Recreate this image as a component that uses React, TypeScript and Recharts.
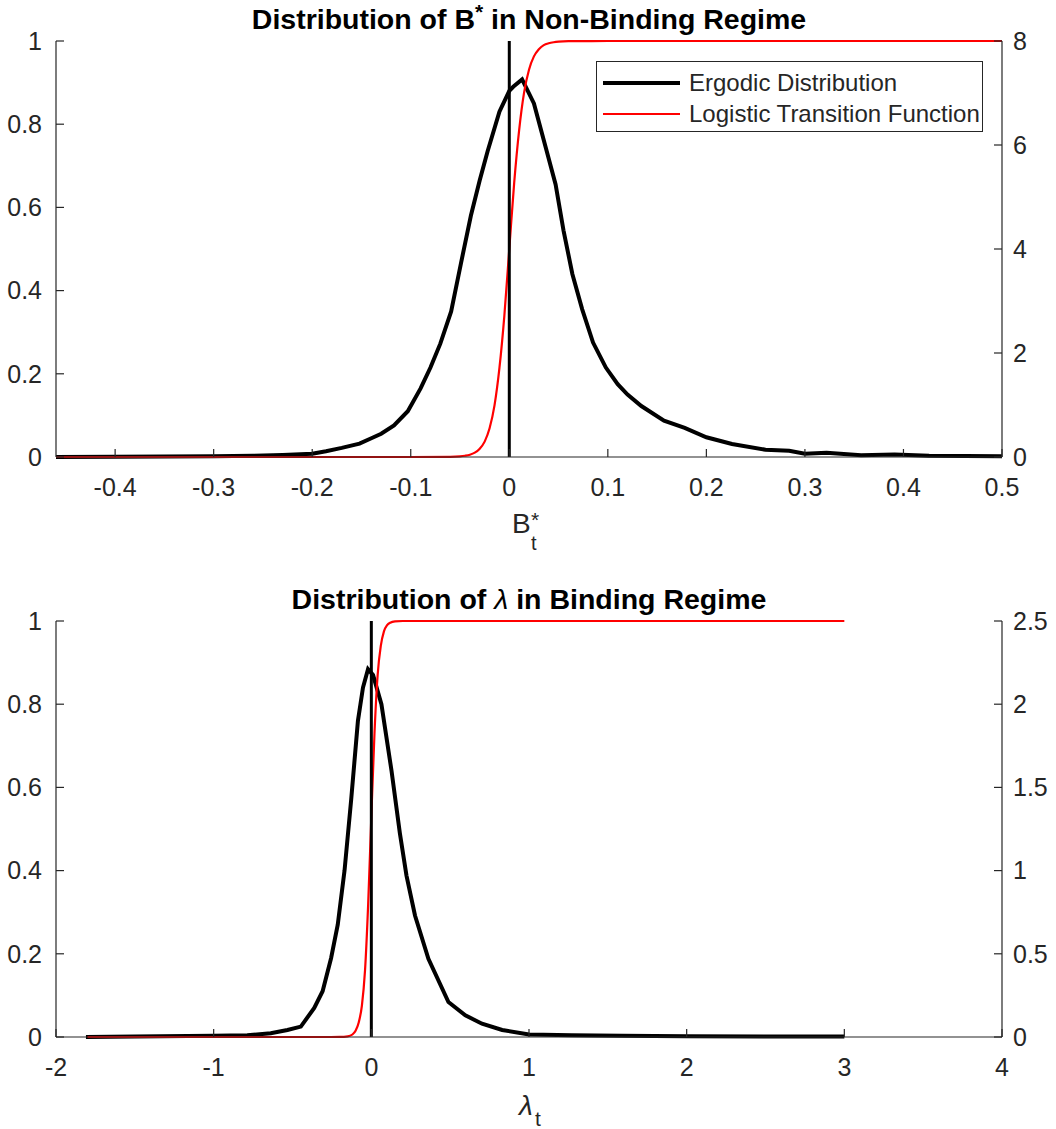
import { Legend, Line, LineChart, ReferenceLine, XAxis, YAxis } from "recharts";

const FONT = "'Liberation Sans', Arial, Helvetica, sans-serif";
const AXIS = "#262626";

// top panel: B* (non-binding regime)
const topDensityX = [-0.46, -0.4, -0.35, -0.3, -0.26, -0.23, -0.2, -0.186, -0.17, -0.152, -0.14, -0.13, -0.117, -0.103, -0.09, -0.08, -0.07, -0.059, -0.049, -0.039, -0.03, -0.022, -0.01, 0, 0.004, 0.013, 0.025, 0.038, 0.047, 0.055, 0.064, 0.074, 0.085, 0.098, 0.11, 0.12, 0.134, 0.157, 0.178, 0.2, 0.226, 0.26, 0.284, 0.3, 0.322, 0.357, 0.391, 0.426, 0.5];
const topDensity = [0, 0.004, 0.008, 0.016, 0.024, 0.04, 0.064, 0.112, 0.176, 0.256, 0.36, 0.448, 0.608, 0.88, 1.32, 1.72, 2.18, 2.8, 3.73, 4.64, 5.32, 5.88, 6.64, 7.04, 7.12, 7.26, 6.8, 5.88, 5.24, 4.36, 3.52, 2.84, 2.2, 1.72, 1.4, 1.2, 0.98, 0.7, 0.56, 0.38, 0.25, 0.14, 0.12, 0.064, 0.08, 0.032, 0.048, 0.024, 0.016];
const topLogitX = [-0.46, -0.1, -0.06, -0.05, -0.045, -0.04, -0.035, -0.03, -0.025, -0.02, -0.015, -0.01, -0.005, 0, 0.005, 0.01, 0.015, 0.02, 0.025, 0.03, 0.035, 0.04, 0.045, 0.05, 0.06, 0.1, 0.5];
const topLogit = [0, 0, 0.0004, 0.0015, 0.003, 0.0055, 0.0105, 0.02, 0.037, 0.069, 0.124, 0.214, 0.34, 0.5, 0.66, 0.786, 0.876, 0.931, 0.963, 0.98, 0.99, 0.9945, 0.997, 0.9985, 0.9996, 1, 1];
const topXTicks = [-0.4, -0.3, -0.2, -0.1, 0, 0.1, 0.2, 0.3, 0.4, 0.5];
const topRightTicks = [0, 2, 4, 6, 8];

// bottom panel: lambda (binding regime)
const botDensityX = [-1.81, -1.5, -1.0, -0.787, -0.638, -0.532, -0.447, -0.362, -0.309, -0.255, -0.213, -0.17, -0.128, -0.085, -0.053, -0.021, 0.011, 0.064, 0.128, 0.181, 0.223, 0.277, 0.362, 0.489, 0.596, 0.702, 0.83, 1.0, 1.27, 1.59, 2.0, 2.5, 3.0];
const botDensity = [0, 0.0025, 0.0075, 0.01, 0.0225, 0.0425, 0.0625, 0.175, 0.275, 0.475, 0.675, 1.0, 1.425, 1.9, 2.1, 2.21, 2.175, 2.0, 1.6, 1.225, 0.97, 0.73, 0.47, 0.21, 0.13, 0.08, 0.0425, 0.015, 0.01, 0.0075, 0.005, 0.0025, 0.0025];
const botLogitX = [-1.8, -0.3, -0.2, -0.15, -0.12, -0.1, -0.08, -0.06, -0.04, -0.02, 0, 0.02, 0.04, 0.06, 0.08, 0.1, 0.12, 0.15, 0.2, 3.0];
const botLogit = [0, 0, 0.0002, 0.0015, 0.006, 0.015, 0.035, 0.075, 0.16, 0.32, 0.53, 0.73, 0.87, 0.94, 0.975, 0.99, 0.996, 0.999, 1, 1];
const botXTicks = [-2, -1, 0, 1, 2, 3, 4];
const botRightTicks = [0, 0.5, 1, 1.5, 2, 2.5];

const leftTicks = [0, 0.2, 0.4, 0.6, 0.8, 1];

const zip = (xs: number[], ys: number[]) => xs.map((x, i) => ({ x, y: ys[i] }));

const tickStyle = { fontSize: 25, fill: AXIS, fontFamily: FONT };

function LegendBox() {
  return (
    <svg width={387} height={71} style={{ display: "block" }}>
      <rect x={0.5} y={0.5} width={386} height={70} fill="#fff" stroke={AXIS} strokeWidth={1} />
      <line x1={7} x2={84} y1={22} y2={22} stroke="#000" strokeWidth={4} />
      <line x1={7} x2={84} y1={53} y2={53} stroke="#ff0000" strokeWidth={2} />
      <text x={93} y={30} fontSize={24} fill={AXIS} fontFamily={FONT}>Ergodic Distribution</text>
      <text x={93} y={61} fontSize={24} fill={AXIS} fontFamily={FONT}>Logistic Transition Function</text>
    </svg>
  );
}

type PanelProps = {
  height: number;
  margin: { top: number; right: number; bottom: number; left: number };
  xDomain: [number, number];
  xTicks: number[];
  rightMax: number;
  rightTicks: number[];
  density: { x: number; y: number }[];
  logistic: { x: number; y: number }[];
  legend?: boolean;
};

function Panel({ height, margin, xDomain, xTicks, rightMax, rightTicks, density, logistic, legend }: PanelProps) {
  return (
    <LineChart width={1056} height={height} margin={margin}>
      <XAxis type="number" dataKey="x" domain={xDomain} ticks={xTicks} interval={0} allowDataOverflow height={1} tickSize={-8} tickMargin={29} stroke={AXIS} strokeWidth={1.2} tick={tickStyle} />
      <YAxis yAxisId="left" orientation="left" type="number" domain={[0, 1]} ticks={leftTicks} interval={0} width={1} tickSize={-8} tickMargin={22} stroke={AXIS} strokeWidth={1.2} tick={tickStyle} />
      <YAxis yAxisId="right" orientation="right" type="number" domain={[0, rightMax]} ticks={rightTicks} interval={0} width={1} tickSize={-8} tickMargin={19} stroke={AXIS} strokeWidth={1.2} tick={tickStyle} />
      <Line yAxisId="right" data={density} dataKey="y" type="linear" stroke="#000" strokeWidth={4} dot={false} isAnimationActive={false} />
      <Line yAxisId="left" data={logistic} dataKey="y" type="monotone" stroke="#ff0000" strokeWidth={2.2} dot={false} isAnimationActive={false} />
      <ReferenceLine yAxisId="left" x={0} stroke="#000" strokeWidth={3} />
      {legend && (
        <Legend layout="horizontal" verticalAlign="middle" align="center" wrapperStyle={{ top: 61, left: 596, width: 387, height: 71 }} content={() => <LegendBox />} />
      )}
    </LineChart>
  );
}

export default function App() {
  return (
    <div style={{ position: "absolute", left: 0, top: 0, width: 1056, height: 1129, background: "#fff", fontFamily: FONT }}>
      <div style={{ position: "absolute", left: 0, top: 0 }}>
        <Panel height={540} margin={{ top: 41, right: 53, bottom: 82, left: 55 }} xDomain={[-0.46, 0.5]} xTicks={topXTicks} rightMax={8} rightTicks={topRightTicks} density={zip(topDensityX, topDensity)} logistic={zip(topLogitX, topLogit)} legend />
      </div>
      <div style={{ position: "absolute", left: 0, top: 580 }}>
        <Panel height={549} margin={{ top: 41, right: 53, bottom: 91, left: 55 }} xDomain={[-2, 4]} xTicks={botXTicks} rightMax={2.5} rightTicks={botRightTicks} density={zip(botDensityX, botDensity)} logistic={zip(botLogitX, botLogit)} />
      </div>
      <svg width={1056} height={1129} style={{ position: "absolute", left: 0, top: 0, pointerEvents: "none" }} fontFamily={FONT}>
        <text x={529} y={29} textAnchor="middle" fontSize={28.5} fontWeight="bold" fill="#000">
          Distribution of B<tspan dy={-10} fontSize={21}>*</tspan>
          <tspan dy={10}> in Non-Binding Regime</tspan>
        </text>
        <text x={512} y={533} fontSize={28} fill={AXIS}>B</text>
        <text x={531} y={527} fontSize={21} fill={AXIS}>*</text>
        <text x={531} y={550} fontSize={20} fill={AXIS}>t</text>
        <text x={529} y={609} textAnchor="middle" fontSize={28.5} fontWeight="bold" fill="#000">
          Distribution of <tspan fontWeight="normal" fontStyle="italic">λ</tspan> in Binding Regime
        </text>
        <text x={519} y={1115} fontSize={28} fill={AXIS} fontStyle="italic">λ</text>
        <text x={535} y={1126} fontSize={21} fill={AXIS}>t</text>
      </svg>
    </div>
  );
}
